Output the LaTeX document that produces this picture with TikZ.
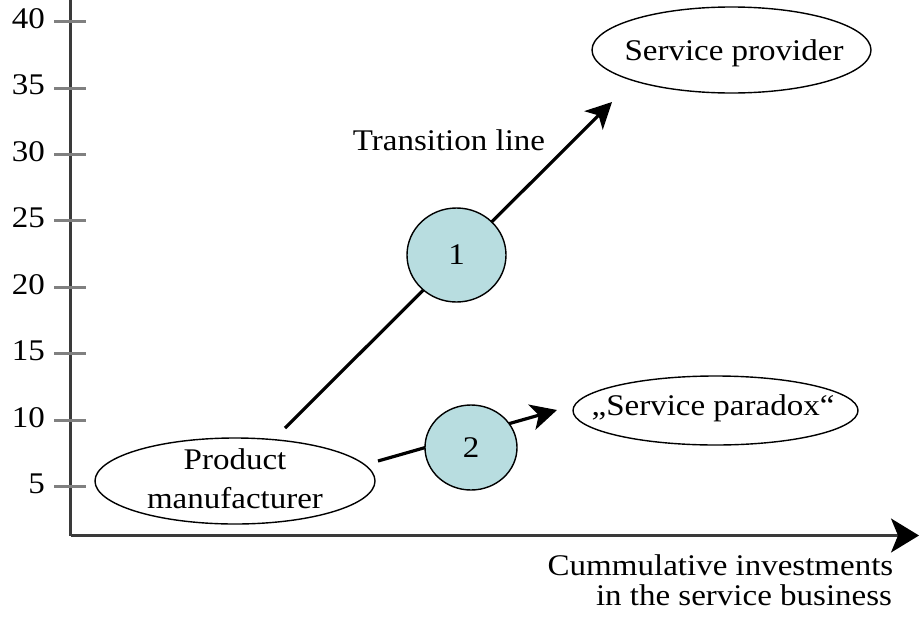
\documentclass[tikz,border=0pt]{standalone}
\usepackage{fontspec}
\setmainfont{Liberation Serif}[FakeStretch=1.1]
\usetikzlibrary{arrows.meta,shapes.geometric}
\definecolor{axisgray}{RGB}{58,58,58}
\definecolor{tickgray}{RGB}{128,128,128}
\definecolor{stagefill}{RGB}{184,221,224}
\begin{document}
\begin{tikzpicture}[x=1pt,y=-1pt,
  every node/.style={font=\fontsize{30}{36}\selectfont, inner sep=0pt},
  axisline/.style={draw=axisgray, line width=2.2pt},
  tickmark/.style={draw=tickgray, line width=3pt},
  ticklabel/.style={anchor=east},
  stateoval/.style={ellipse, draw=black, line width=1.4pt},
  stagedisc/.style={ellipse, draw=black, fill=stagefill, line width=1.4pt},
  pathline/.style={line width=3.2pt, -{Stealth[length=26pt,width=26pt,inset=7pt]}},
]
\useasboundingbox (0,0) rectangle (920,621);

% axes
\coordinate (origin) at (70.5,535.5);
\coordinate (ytop) at (70.5,0);
\coordinate (xend) at (919,535.5);
\draw[axisline] (origin) -- (ytop);
\draw[axisline, -{Stealth[length=28pt,width=34pt,inset=7pt,color=black]}] (origin) -- (xend);

% ticks and their values
\foreach \v in {5,10,...,40} {
  \pgfmathsetmacro\ty{486.7-(\v/5-1)*66.43}
  \draw[tickmark] (54,\ty) -- (86,\ty);
  \node[ticklabel] (lab\v) at (45,\ty-3) {\v};
}

% business states
\node[stateoval, minimum width=280pt, minimum height=86pt] (pm) at (235,481) {};
\node[align=center, font=\fontsize{30}{39}\selectfont] (pmtext) at (235,479) {Product\\manufacturer};

\node[stateoval, minimum width=279pt, minimum height=86pt] (sp) at (731.5,50) {};
\node (sptext) at (734,53) {Service provider};

\node[stateoval, minimum width=285pt, minimum height=69pt] (spx) at (715.5,410.5) {};
\node (spxtext) at (713,408) {„Service paradox“};

% transition paths
\coordinate (s1) at (285,428);
\coordinate (t1) at (612,102);
\draw[pathline] (s1) -- (t1);
\coordinate (s2) at (378,461);
\coordinate (t2) at (557,410);
\draw[pathline] (s2) -- (t2);

\node[stagedisc, minimum width=99pt, minimum height=94pt] (st1) at (456.5,255) {1};
\node[stagedisc, minimum width=92pt, minimum height=85pt] (st2) at (471,447.5) {2};

% labels
\node[anchor=base] (trans) at (449,150) {Transition line};
\node[anchor=base] (xlab1) at (720.5,575) {Cummulative investments};
\node[anchor=base] (xlab2) at (744,605) {in the service business};
\end{tikzpicture}
\end{document}
